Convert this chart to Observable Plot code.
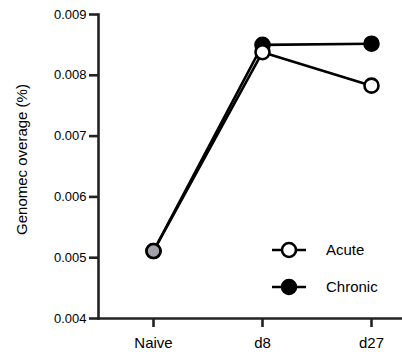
<!DOCTYPE html>
<html>
<head>
<meta charset="utf-8">
<script src="https://cdn.jsdelivr.net/npm/d3@7"></script>
<script src="https://cdn.jsdelivr.net/npm/@observablehq/plot@0.6"></script>
<style>
  html, body { margin: 0; padding: 0; background: #fff; }
  #wrap { position: relative; width: 402px; height: 360px; font-family: Arial, "Liberation Sans", sans-serif; }
  #legend { position: absolute; left: 271px; top: 231px; font-size: 15px; color: #000; }
  #legend .row { display: flex; align-items: center; height: 37px; }
  #legend svg { margin-right: 19px; }
</style>
</head>
<body>
<div id="wrap"></div>
<script>
const timepoints = ["Naive", "d8", "d27"];
const acute = [0.00511, 0.00838, 0.00783];
const chronic = [0.00511, 0.00850, 0.00852];
const seriesNames = ["Acute", "Chronic"];
const yTicks = [0.004, 0.005, 0.006, 0.007, 0.008, 0.009];
const yLabel = "Genomec overage (%)";

const fills = {Acute: "#fff", Chronic: "#000", Naive: "#a2a2aa"};

const rows = [];
timepoints.forEach((t, i) => {
  rows.push({series: "Chronic", time: t, value: chronic[i]});
});
timepoints.forEach((t, i) => {
  rows.push({series: "Acute", time: t, value: acute[i]});
});

const axisColor = "#222";
const W = 402, H = 360, ML = 98, MR = 0, TICK = 9;

const chart = Plot.plot({
  width: W,
  height: H,
  marginLeft: ML,
  marginRight: MR,
  marginTop: 14,
  marginBottom: 42,
  x: {type: "point", domain: timepoints, range: [152, 371], padding: 0, label: null},
  y: {domain: [0.004, 0.009], label: null},
  marks: [
    Plot.axisX({tickSize: 0, tickPadding: 19, color: "#000", fontSize: 15, label: null}),
    Plot.axisY({ticks: yTicks, tickFormat: d3.format(".3f"), tickSize: 0, tickPadding: 12, color: "#000", fontSize: 13, label: null}),
    // tick marks drawn as rules (line elements)
    Plot.ruleX(timepoints, {x: d => d, y1: yTicks[0], y2: yTicks[0], insetBottom: -TICK, stroke: axisColor, strokeWidth: 2.6}),
    Plot.ruleY(yTicks, {y: d => d, insetLeft: -TICK, insetRight: W - ML - MR, stroke: axisColor, strokeWidth: 2.6}),
    Plot.frame({anchor: "left", stroke: axisColor, strokeWidth: 2.6}),
    Plot.frame({anchor: "bottom", stroke: axisColor, strokeWidth: 2.6}),
    Plot.text([yLabel], {frameAnchor: "left", rotate: -90, dx: -76, dy: -7, textAnchor: "middle", fontSize: 15, fill: "#000"}),
    Plot.line(rows, {x: "time", y: "value", z: "series", stroke: "#000", strokeWidth: 2.6}),
    Plot.dot(rows, {x: "time", y: "value", r: 7, stroke: "#000", strokeWidth: 2.6,
      fill: d => d.time === "Naive" ? fills.Naive : fills[d.series]})
  ]
});
chart.setAttribute("font-family", "Arial, 'Liberation Sans', sans-serif");
document.getElementById("wrap").appendChild(chart);

const legend = document.createElement("div");
legend.id = "legend";
seriesNames.forEach(name => {
  const row = document.createElement("div");
  row.className = "row";
  row.innerHTML = `<svg width="36" height="18"><line x1="1" x2="35" y1="9" y2="9" stroke="#000" stroke-width="2.6"/><circle cx="18" cy="9" r="7" fill="${fills[name]}" stroke="#000" stroke-width="2.6"/></svg><span>${name}</span>`;
  legend.appendChild(row);
});
document.getElementById("wrap").appendChild(legend);
</script>
</body>
</html>
